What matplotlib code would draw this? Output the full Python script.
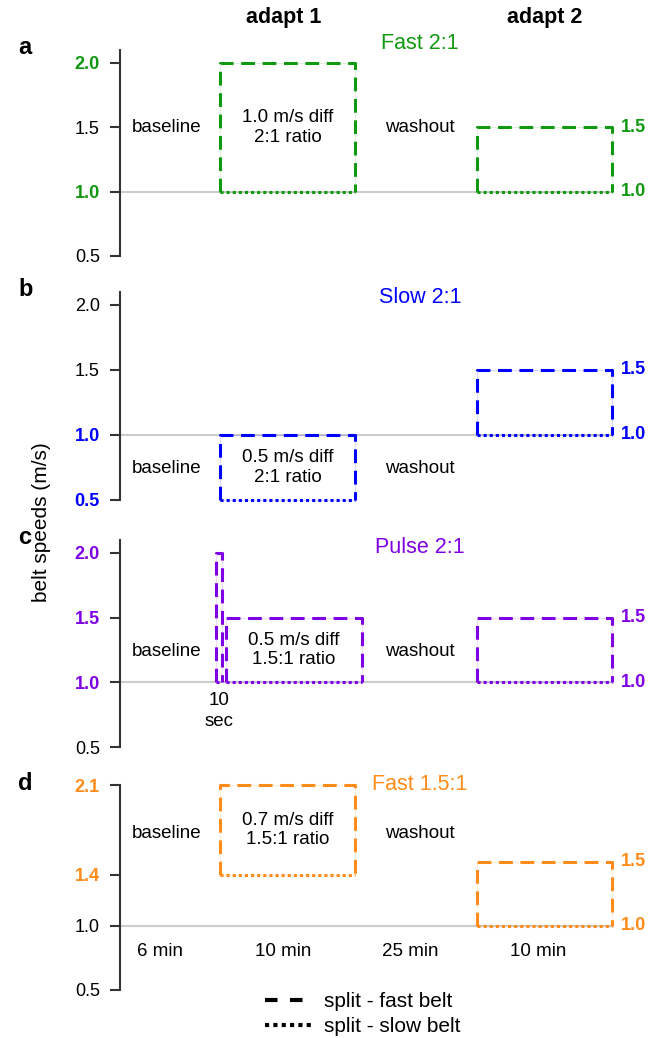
# Protocolos de velocidad de cinta (split-belt) - 4 paneles
import matplotlib.pyplot as plt
from matplotlib.lines import Line2D
from matplotlib.patches import Rectangle

plt.rcParams['font.family'] = ['Liberation Sans', 'DejaVu Sans']

# datos
letras = ['a', 'b', 'c', 'd']
titulos = ['Fast 2:1', 'Slow 2:1', 'Pulse 2:1', 'Fast 1.5:1']
colores = ['#119911', '#0000ff', '#8000e6', '#ff8c1a']
adapt1_rapida = [2.0, 1.0, 1.5, 2.1]
adapt1_lenta = [1.0, 0.5, 1.0, 1.4]
adapt2_rapida = [1.5, 1.5, 1.5, 1.5]
adapt2_lenta = [1.0, 1.0, 1.0, 1.0]
pulso_rapida = [None, None, 2.0, None]
pulso_lenta = [None, None, 1.0, None]
etiquetas_diff = ['1.0 m/s diff\n2:1 ratio', '0.5 m/s diff\n2:1 ratio',
                  '0.5 m/s diff\n1.5:1 ratio', '0.7 m/s diff\n1.5:1 ratio']
yticks = [[0.5, 1.0, 1.5, 2.0], [0.5, 1.0, 1.5, 2.0],
          [0.5, 1.0, 1.5, 2.0], [0.5, 1.0, 1.4, 2.1]]
duraciones = ['6 min', '10 min', '25 min', '10 min']
velocidad_base = 1.0

# eje x esquemático (no proporcional al tiempo)
bordes = [0, 100, 235, 357, 492]
pulso_x = [96, 102]
bordes_c = [106, 242]

fig = plt.figure(figsize=(6.51, 10.38), dpi=100)
H = 1038
# (arriba, abajo) de cada panel en pixeles
filas = [(50, 256), (292, 500), (540, 747), (785, 990)]
y_texto = [1.5, 0.74, 1.24, 1.72]
y_caja = [1.5, 0.75, 1.25, 1.75]
y_titulo = [2.15, 2.06, 2.04, 2.1]

LW = 2.2
DASH = (0, (4.5, 2.5))
DOT = (0, (1, 1))


def caja(ax, x0, x1, rapida, lenta, color):
    ax.add_patch(Rectangle((x0, lenta), x1 - x0, rapida - lenta, fill=False,
                           ec=color, lw=0.8, alpha=0.15, clip_on=False))
    ax.plot([x0, x0, x1, x1], [lenta, rapida, rapida, lenta], color=color,
            lw=LW, linestyle=DASH, clip_on=False)
    ax.plot([x0, x1], [lenta, lenta], color=color, lw=LW, linestyle=DOT,
            clip_on=False)


for i in range(4):
    top, bot = filas[i]
    ax = fig.add_axes([120 / 651, 1 - bot / H, 500 / 651, (bot - top) / H])
    c = colores[i]
    ax.set_xlim(0, 500)
    ax.set_ylim(0.5, 2.1)
    for s in ['top', 'right', 'bottom']:
        ax.spines[s].set_visible(False)
    ax.spines['left'].set_color('#333333')
    ax.spines['left'].set_linewidth(1.5)
    ax.set_xticks([])
    ax.set_yticks(yticks[i])
    ax.set_yticklabels([f'{v:.1f}' for v in yticks[i]])
    ax.tick_params(axis='y', length=7, width=1.5, color='#333333',
                   labelsize=13, pad=7.5)
    marcadas = {adapt1_rapida[i], adapt1_lenta[i]}
    if pulso_rapida[i] is not None:
        marcadas.add(pulso_rapida[i])
    for v, lab in zip(yticks[i], ax.get_yticklabels()):
        if v in marcadas:
            lab.set_color(c)
            lab.set_fontweight('bold')

    ax.plot([bordes[0], bordes[4]], [velocidad_base, velocidad_base],
            color='#cccccc', lw=1.5, zorder=0)

    if pulso_rapida[i] is not None:
        caja(ax, pulso_x[0], pulso_x[1], pulso_rapida[i], pulso_lenta[i], c)
        a0, a1 = bordes_c
    else:
        a0, a1 = bordes[1], bordes[2]
    caja(ax, a0, a1, adapt1_rapida[i], adapt1_lenta[i], c)
    caja(ax, bordes[3], bordes[4], adapt2_rapida[i], adapt2_lenta[i], c)

    for v in [adapt2_rapida[i], adapt2_lenta[i]]:
        ax.text(501, v, f'{v:.1f}', color=c, fontweight='bold', fontsize=13,
                va='center', ha='left', clip_on=False)

    ax.text(47, y_texto[i], 'baseline', ha='center', va='center', fontsize=13.5)
    ax.text(300, y_texto[i], 'washout', ha='center', va='center', fontsize=13.5)
    ax.text((a0 + a1) / 2, y_caja[i], etiquetas_diff[i], ha='center',
            va='center', fontsize=13.5, linespacing=1.2)
    ax.text(300, y_titulo[i], titulos[i], color=c, ha='center', va='center',
            fontsize=15.5, clip_on=False)
    fig.text(18 / 651, 1 - (top - 2) / H, letras[i], fontsize=17,
             fontweight='bold', ha='left', va='center')

    if pulso_rapida[i] is not None:
        ax.text(99, 0.78, '10\nsec', ha='center', va='center', fontsize=13.5,
                linespacing=1.3)
    if i == 3:
        for txt, x in zip(duraciones, [40, 163, 290, 418]):
            ax.text(x, 0.8, txt, ha='center', va='center', fontsize=13.5)

fig.text(284 / 651, 1 - 18 / H, 'adapt 1', fontsize=15.5, fontweight='bold',
         ha='center', va='center')
fig.text(545 / 651, 1 - 18 / H, 'adapt 2', fontsize=15.5, fontweight='bold',
         ha='center', va='center')
fig.text(42 / 651, 1 - 522 / H, 'belt speeds (m/s)', rotation=90, fontsize=15,
         ha='center', va='center')

manijas = [Line2D([], [], color='black', lw=3, linestyle=(0, (3, 3))),
           Line2D([], [], color='black', lw=3, linestyle=(0, (1, 1)))]
fig.legend(manijas, ['split - fast belt', 'split - slow belt'],
           loc='center left', bbox_to_anchor=(255 / 651, 1 - 1014 / H),
           frameon=False, fontsize=15, handlelength=2.2, labelspacing=0.3,
           handletextpad=0.6, borderpad=0)

fig.savefig('out.png', dpi=100)
